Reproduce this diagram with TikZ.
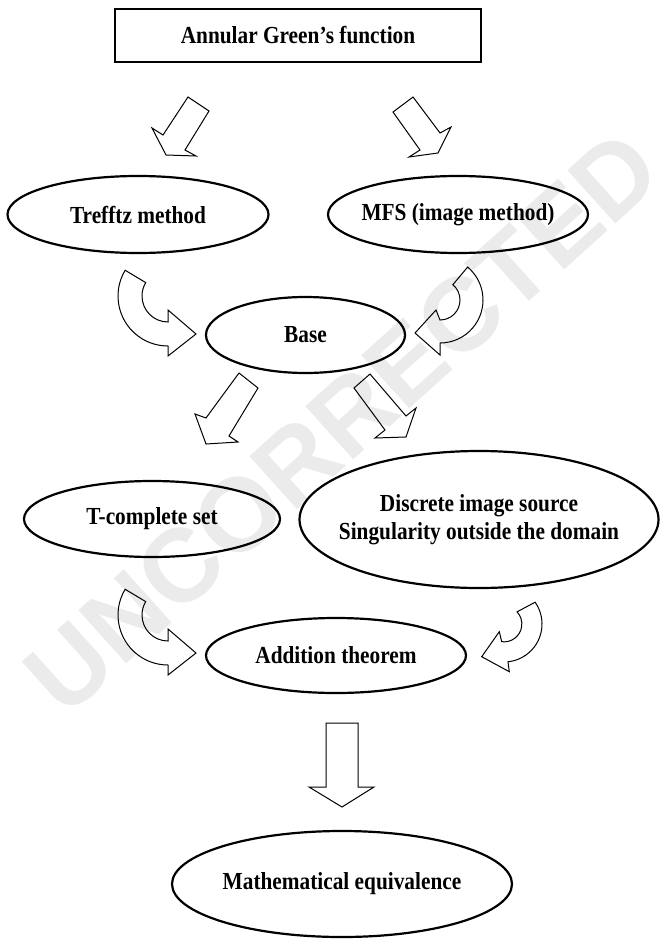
\documentclass[tikz,border=0pt]{standalone}
\usepackage{fontspec}
\setmainfont{Liberation Serif}[FakeStretch=0.87]
\newfontfamily\wmfont{Liberation Sans}
\usetikzlibrary{shapes.geometric,calc}
\newcommand\mkz[1]{\makebox[0pt]{#1}}
\begin{document}
\begin{tikzpicture}[x=1pt,y=1pt,
  lbl/.style={font=\fontsize{24.5}{28.3}\selectfont\bfseries},
  oval/.style={ellipse, draw, line width=2.2pt, inner sep=0pt, lbl, align=center},
  blk/.style={draw, line width=1pt, line join=miter},
  wm/.style={text=black!8, font=\wmfont\bfseries\fontsize{104}{104}\selectfont}
]
\useasboundingbox (0,0) rectangle (660,-939);
\fill[white] (0,0) rectangle (660,-939);
% watermark
\node[wm, rotate=42] (water) at (342,-422) {UNCORRECTED};
% title box
\node[draw, line width=2pt, minimum width=366pt, minimum height=53pt, inner sep=0pt, lbl] (green) at (298,-35.5) {Annular Green’s function};
% ellipses
\node[oval, minimum width=261pt, minimum height=77pt] (trefftz) at (138,-214.5) {\mkz{Trefftz method}};
\node[oval, minimum width=260pt, minimum height=77pt] (mfs) at (458,-214.5) {\mkz{MFS (image method)}};
\node[oval, minimum width=199pt, minimum height=76pt] (base) at (305.5,-335) {\mkz{Base}};
\node[oval, minimum width=256pt, minimum height=76pt] (tset) at (152,-519) {\mkz{T-complete set}};
\node[oval, minimum width=359pt, minimum height=137pt] (disc) at (479,-519.5) {\mkz{Discrete image source}\\ \mkz{Singularity outside the domain}};
\node[oval, minimum width=260pt, minimum height=75pt] (add) at (336,-655.5) {\mkz{Addition theorem}};
\node[oval, minimum width=340pt, minimum height=106pt] (math) at (342,-884) {\mkz{Mathematical equivalence}};
% straight block arrows
\draw[blk] (188,-97) -- (209,-111) -- (185,-150) -- (196,-156) -- (166,-155) -- (152,-128) -- (163,-135) -- cycle;
\draw[blk] (393,-112) -- (413,-97) -- (440,-133) -- (451,-127) -- (438,-153) -- (409,-157) -- (420,-150) -- cycle;
\draw[blk] (239,-373) -- (258,-388) -- (229,-436) -- (238,-442) -- (206,-444) -- (195,-414) -- (206,-418) -- cycle;
\draw[blk] (354,-388) -- (370,-374) -- (406,-416) -- (416,-408) -- (406,-437) -- (375,-438) -- (385,-430) -- cycle;
\draw[blk] (326,-723) -- (358,-723) -- (358,-787) -- (374,-787) -- (342,-807) -- (309,-787) -- (326,-787) -- cycle;
% curved block arrows
\coordinate (ca) at (168,-296);
\draw[blk] ($(ca)+(149:50)$) arc[start angle=149,end angle=270,radius=50]
  -- (168,-356) -- (196,-334) -- (168,-310) -- ($(ca)+(270:26)$)
  arc[start angle=270,end angle=149,radius=26] -- cycle;
\coordinate (cb) at (440,-300);
\draw[blk] ($(cb)+(50:43)$) arc[start angle=50,end angle=-90,radius=43]
  -- (440,-355) -- (415,-333) -- (436,-310) -- ($(cb)+(-90:20)$)
  arc[start angle=-90,end angle=50,radius=20] -- cycle;
\coordinate (cc) at (168,-615);
\draw[blk] ($(cc)+(149:50)$) arc[start angle=149,end angle=270,radius=50]
  -- (168,-675) -- (196,-653) -- (168,-629) -- ($(cc)+(270:26)$)
  arc[start angle=270,end angle=149,radius=26] -- cycle;
\coordinate (cd) at (504,-624);
\draw[blk] ($(cd)+(35:38)$) arc[start angle=35,end angle=-84,radius=38]
  -- (509.3,-671.7) -- (481.7,-656.7) -- (499.3,-631.7) -- (501.7,-641.7)
  arc[start angle=-97.4,end angle=43,radius=17.85] -- cycle;
\end{tikzpicture}
\end{document}
